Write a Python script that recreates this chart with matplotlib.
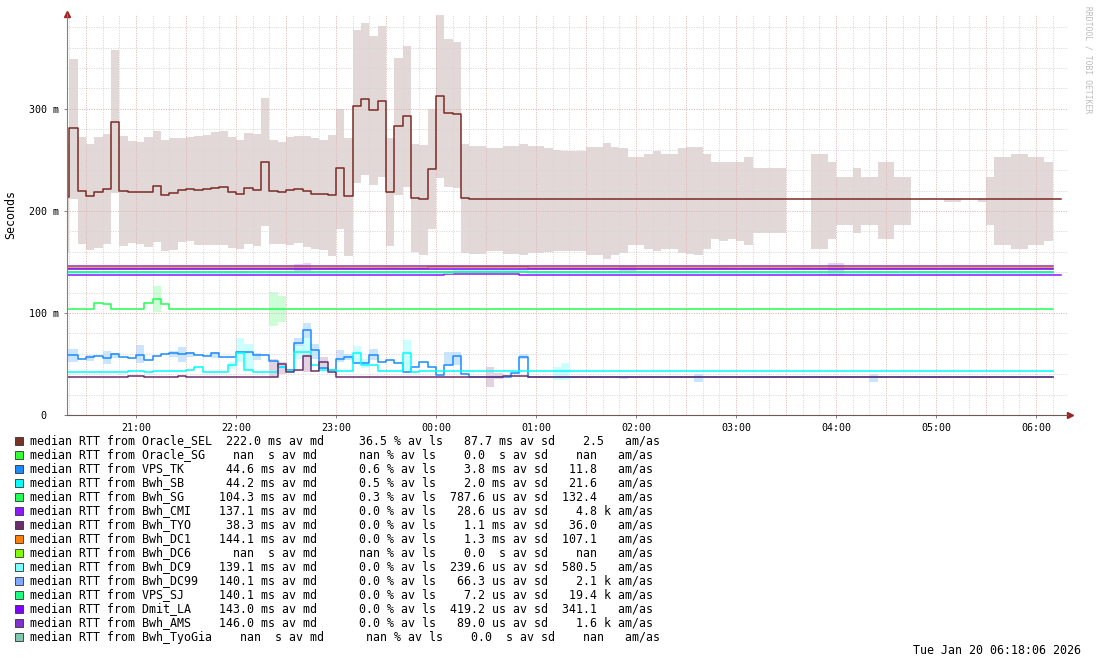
import datetime as dt
import numpy as np
import matplotlib
matplotlib.use('Agg')
import matplotlib.pyplot as plt
import matplotlib.dates as mdates
from matplotlib.patches import Rectangle

nan = np.nan
W, H = 1097, 665
MONO = 'DejaVu Sans Mono'

# 5 minute bins, first bin starts 20:15 (index 0 = bin -1), 120 bins -> 06:15
t_start = dt.datetime(2026, 1, 19, 20, 15)
n_bins = 120
edges = mdates.date2num([t_start + dt.timedelta(minutes=5 * i) for i in range(n_bins + 1)])

# ---- median RTT (ms) per bin ----
oracle_sel = [213.7, 281, 220, 214.4, 218.3, 221.3, 287.6, 219.3, 218.3, 218.3,
              218.3, 224.2, 215.4, 217.3, 220.3, 221.3, 220.3, 221.3, 222.2, 223.2,
              218.3, 216.4, 222.2, 220.3, 247.7, 219.3, 218.3, 220.3, 221.3, 219.3,
              216.4, 216.4, 215.4, 241.8, 214.4, 302.6, 309.5, 298.7, 307.5, 218.3,
              283, 292.8, 212.4, 211.4, 240.8, 312.4, 295.8, 294.8, 212.4] + [211.4] * 71
oracle_sel_hi = [267, 349, 272.9, 265.7, 272.9, 275.5, 358, 273.9, 269, 268,
                 272.9, 278.4, 270, 271.9, 271, 272.9, 273.9, 274.8, 277.7, 278.4,
                 272.9, 270, 276.5, 275.5, 310.8, 270, 268, 272.9, 273.9, 273.5,
                 271, 270, 274.5, 300, 271.9, 377.5, 384.3, 371.6, 381.4, 271,
                 350, 361.8, 265.7, 264.7, 300, 392, 368.6, 365.7, 265.7, 263.7,
                 263.7, 261.8, 261.8, 263.7, 263.7, 265.7, 264, 263.5, 261.8, 259.5,
                 259.1, 259.1, 259.1, 262.2, 262.2, 266.1, 263.1, 261.2, 253.1, 253.1,
                 256.2, 259.1, 256.2, 256.2, 261.2, 262.2, 262.2, 256.2, 248.2, 248.2,
                 248.2, 248.2, 253.1, 242.3, 242.3, 242.3, 242.3, nan, nan, nan,
                 256.2, 256.2, 248.2, 233.3, 233.3, 242.3, 233.3, 233.3, 248.2, 248.2,
                 233.3, 233.3, nan, nan, nan, nan, 211.5, 211.5, nan, nan,
                 211.5, 233.3, 253.1, 253.1, 256.2, 256.2, 253.1, 253.1, 248.2, nan]
oracle_sel_lo = [160, 211.8, 168, 162, 164, 168, 218, 166, 169, 168,
                 165, 170, 161, 162, 170, 171, 167, 167, 167, 167,
                 164, 163, 168, 166, 185.3, 168, 168, 167, 169, 165,
                 163, 162, 156, 182.4, 156, 227.8, 235.3, 225.8, 233.3, 166,
                 216, 223.8, 160, 157, 182, 232.4, 223.8, 222.9, 159, 158,
                 158, 161, 161, 158, 158, 157, 159, 159, 160, 161,
                 161, 161, 161, 157, 157, 153, 156.5, 159, 167, 167,
                 163, 161, 163, 163, 159, 158, 157, 163, 172, 171,
                 172, 171, 167, 178, 178, 178, 178, nan, nan, nan,
                 163, 163, 172, 186.6, 186.6, 178, 186.6, 186.6, 172, 172,
                 186.6, 186.6, nan, nan, nan, nan, 209, 209, nan, nan,
                 209, 186.6, 167, 167, 163, 163, 167, 167, 171, nan]

vps_tk = [58.8, 58.8, 54.9, 56.9, 57.8, 55.9, 59.5, 56.9, 55.9, 58.8,
          53.6, 57.8, 59.8, 60.8, 59.8, 60.8, 58.8, 57.8, 60.8, 56.9,
          56.9, 61.4, 61.4, 58.8, 58.8, 52.6, 47.4, 43.8, 70.3, 83,
          63.4, 46, 44.1, 55.2, 56.5, 50.6, 50.6, 58.5, 51.6, 53.6,
          50.6, 41.8, 46.7, 51.6, 46.7, 38.9, 48.7, 57.5, 40.2, 37,
          37, 37, 37, 37, 40.8, 56.5] + [37.3] * 63 + [nan]
bwh_sb = [41.8, 41.8, 41.8, 41.8, 41.8, 41.8, 41.8, 41.8, 42.8, 42.8,
          41.8, 42.8, 42.8, 42.8, 42.8, 43.8, 46.7, 41.8, 41.8, 41.8,
          48.7, 60.5, 43.8, 41.8, 41.8, 41.8, 46.7, 42.8, 61.4, 61.4,
          48.7, 43.8, 43.8, 42.8, 42.8, 60.5, 48.7, 48.7, 42.8, 42.8,
          42.8, 60.5, 41.8] + [42.8] * 76 + [nan]
bwh_tyo = ([37.6] * 8 + [38.5, 38.5] + [37.6] * 4 + [38.5] + [37.6] * 11
           + [49.7, 41.8, 43.8, 57.8, 42.8, 51.6, 41.8] + [37.6] * 20
           + [38.7] * 3 + [37.6] * 63 + [nan])
bwh_sg = [103.6] * 4 + [109.5, 108.5] + [103.6] * 4 + [109.5, 113.4, 108.5] + [103.6] * 106 + [nan]
bwh_ams = [146.0] * 119 + [nan]
bwh_dc1 = [143.8] * 44 + [145.0] * 12 + [143.8] * 63 + [nan]
dmit_la = [143.0] * 119 + [nan]
bwh_dc99 = [140.1] * 119 + [nan]
vps_sj = [140.1] * 119 + [nan]
bwh_dc9 = [139.1] * 47 + [141.0] * 9 + [139.1] * 63 + [nan]
bwh_cmi = [137.1] * 46 + [138.1] * 9 + [137.1] * 65

# ---- smoke patches (bin, lo, hi) for the smaller targets ----
vps_tk_smoke = [(-1, 52.3, 64.4), (0, 52.3, 64.4), (2, 53, 59), (4, 49.7, 62.5), (5, 56, 61),
                (8, 50.6, 68.6), (12, 57, 63), (13, 52.3, 66.4), (14, 57, 62), (17, 56, 62),
                (20, 55, 63), (22, 54, 61), (27, 63.7, 75.5), (28, 70, 90.5), (29, 55, 69.6),
                (32, 52.3, 63.7), (33, 54, 60), (36, 53.6, 64.7), (45, 49.4, 62), (46, 49.4, 62),
                (54, 55, 60), (66, 35, 37.7), (75, 32.8, 40.3), (82, 36, 38.5), (87, 36, 38.5),
                (90, 36, 38.5), (96, 32.8, 40.3), (103, 36, 38.5), (108, 36, 38.5), (113, 36, 38.5)]
bwh_sb_smoke = [(19, 45, 52), (20, 52.3, 75.5), (21, 44, 70), (27, 55, 68), (28, 58, 75),
                (34, 50.6, 67.6), (35, 46, 55), (40, 40.8, 73.5), (58, 34.4, 46.6), (59, 34.4, 50.8)]
bwh_tyo_smoke = [(24, 37.6, 55), (25, 40, 52), (28, 42, 60), (30, 45, 56.5), (50, 27.7, 46.7), (51, 35, 40.8)]
bwh_sg_smoke = [(10, 101.3, 126.5), (24, 87.3, 120.3), (25, 91.2, 116.7)]
bwh_ams_smoke = [(27, 139, 148), (28, 139, 148.5), (66, 140, 146.5), (67, 140, 146.5),
                 (91, 137, 148.5), (92, 137, 148.5)]
bwh_dc1_smoke = [(31, 143, 145.5), (32, 143, 145.5), (37, 143, 145.5), (38, 143, 145.5),
                 (77, 143, 145.5), (78, 143, 145.5), (87, 143, 145.5), (88, 143, 145.5)]

# ---- legend ----
names = ['Oracle_SEL', 'Oracle_SG', 'VPS_TK', 'Bwh_SB', 'Bwh_SG', 'Bwh_CMI', 'Bwh_TYO', 'Bwh_DC1',
         'Bwh_DC6', 'Bwh_DC9', 'Bwh_DC99', 'VPS_SJ', 'Dmit_LA', 'Bwh_AMS', 'Bwh_TyoGia']
colors = ['#783228', '#33ff33', '#1a8cff', '#00ffff', '#22ff55', '#8c1aff', '#6b2d6b', '#ff8000',
          '#80ff00', '#80ffff', '#80a8ff', '#1aff80', '#8000ff', '#8033cc', '#80c8b0']
av_md = ['222.0', 'nan', '44.6', '44.2', '104.3', '137.1', '38.3', '144.1',
         'nan', '139.1', '140.1', '140.1', '143.0', '146.0', 'nan']
md_pre = ['m', ' ', 'm', 'm', 'm', 'm', 'm', 'm', ' ', 'm', 'm', 'm', 'm', 'm', ' ']
av_ls = ['36.5', 'nan', '0.6', '0.5', '0.3', '0.0', '0.0', '0.0',
         'nan', '0.0', '0.0', '0.0', '0.0', '0.0', 'nan']
av_sd = ['87.7', '0.0', '3.8', '2.0', '787.6', '28.6', '1.1', '1.3',
         '0.0', '239.6', '66.3', '7.2', '419.2', '89.0', '0.0']
sd_pre = ['m', ' ', 'm', 'm', 'u', 'u', 'm', 'm', ' ', 'u', 'u', 'u', 'u', 'u', ' ']
am_as = ['2.5', 'nan', '11.8', '21.6', '132.4', '4.8', '36.0', '107.1',
         'nan', '580.5', '2.1', '19.4', '341.1', '1.6', 'nan']
am_pre = [' ', ' ', ' ', ' ', ' ', 'k', ' ', ' ', ' ', ' ', 'k', 'k', ' ', 'k', ' ']

smoke_col = {'sel': '#e3d8d8', 'tk': '#cce5ff', 'sb': '#ccffff', 'tyo': '#e2d3e2',
             'sg': '#ccffd6', 'ams': '#e4cff5', 'dc1': '#ffe3d0'}

fig = plt.figure(figsize=(W / 100, H / 100), dpi=100)
ax = fig.add_axes([67 / W, 1 - 415 / H, 1001 / W, 401 / H])


def smoke(lo, hi, color):
    lo = np.asarray(lo, float)
    hi = np.asarray(hi, float)
    ok = ~np.isnan(lo)
    ax.bar(edges[:-1][ok], (hi - lo)[ok], bottom=lo[ok], width=5 / 1440, align='edge',
           color=color, linewidth=0, antialiased=False, zorder=1)


def patches(items, color):
    lo = np.full(n_bins, nan)
    hi = np.full(n_bins, nan)
    for b, l, h in items:
        lo[b + 1], hi[b + 1] = l, h
    smoke(lo, hi, color)


smoke(oracle_sel_lo, oracle_sel_hi, smoke_col['sel'])
patches(vps_tk_smoke, smoke_col['tk'])
patches(bwh_sb_smoke, smoke_col['sb'])
patches(bwh_tyo_smoke, smoke_col['tyo'])
patches(bwh_sg_smoke, smoke_col['sg'])
patches(bwh_ams_smoke, smoke_col['ams'])
patches(bwh_dc1_smoke, smoke_col['dc1'])

# grid (rrdtool style, dotted)
t = dt.datetime(2026, 1, 19, 20, 20)
while t <= dt.datetime(2026, 1, 20, 6, 10):
    major = t.minute % 30 == 0
    ax.axvline(mdates.date2num(t), color='#e0b4b4' if major else '#d6d6d6',
               lw=0.72, ls=(0, (1, 1.4)), zorder=1.5)
    t += dt.timedelta(minutes=10)
for yv in range(20, 400, 20):
    major = yv % 100 == 0
    ax.axhline(yv, color='#e0b4b4' if major else '#d6d6d6', lw=0.72, ls=(0, (1, 1.4)), zorder=1.5)


def line(vals, color):
    v = np.asarray(vals, float)
    ax.step(edges, np.append(v, v[-1]), where='post', color=color, lw=1.1, zorder=2)


line(oracle_sel, '#7a2b24')
line(vps_tk, colors[2])
line(bwh_sb, colors[3])
line(bwh_sg, colors[4])
line(bwh_cmi, colors[5])
line(bwh_tyo, colors[6])
line(bwh_dc1, colors[7])
line(bwh_dc9, colors[9])
line(bwh_dc99, colors[10])
line(vps_sj, colors[11])
line(dmit_la, colors[12])
line(bwh_ams, colors[13])

ax.xaxis_date()
ax.set_xlim(mdates.date2num(dt.datetime(2026, 1, 19, 20, 18, 36)),
            mdates.date2num(dt.datetime(2026, 1, 20, 6, 19, 12)))
ax.set_ylim(0, 393)
ax.xaxis.set_major_locator(mdates.HourLocator())
ax.xaxis.set_major_formatter(mdates.DateFormatter('%H:%M'))
ax.set_yticks([0, 100, 200, 300])
ax.set_yticklabels(['0  ', '100 m', '200 m', '300 m'])
for lab in ax.get_xticklabels() + ax.get_yticklabels():
    lab.set_family(MONO)
    lab.set_fontsize(7.2)
ax.tick_params(axis='both', length=2, width=0.7, color='#808080', pad=4)
for s in ['top', 'right']:
    ax.spines[s].set_visible(False)
ax.spines['left'].set_color('#808080')
ax.spines['bottom'].set_color('#6b5a5a')
ax.plot([0], [1.0], marker='^', ms=4, color='#a02020', transform=ax.transAxes, clip_on=False)
ax.plot([1.002], [0], marker='>', ms=4, color='#a02020', transform=ax.transAxes, clip_on=False)

fig.text(11 / W, 1 - 214 / H, 'Seconds', rotation=90, ha='center', va='center',
         family=MONO, fontsize=8.4)
fig.text(1088 / W, 1 - 60 / H, 'RRDTOOL / TOBI OETIKER', rotation=270, ha='center', va='center',
         family=MONO, fontsize=5.8, color='#bcbcbc')

for i, name in enumerate(names):
    y = 441 + 14 * i
    txt = (f"median RTT from {name:<9}{av_md[i]:>7} {md_pre[i]}s av md {av_ls[i]:>8} % av ls"
           f"{av_sd[i]:>7} {sd_pre[i]}s av sd{am_as[i]:>7} {am_pre[i]} am/as")
    fig.text(30 / W, 1 - y / H, txt, ha='left', va='center', family=MONO, fontsize=8.4)
    fig.patches.append(Rectangle((15 / W, 1 - (y + 4) / H), 8 / W, 8 / H, transform=fig.transFigure,
                                 facecolor=colors[i], edgecolor='#303030', lw=0.6))

fig.text(1081 / W, 1 - 651 / H, 'Tue Jan 20 06:18:06 2026', ha='right', va='center',
         family=MONO, fontsize=8.4)

fig.savefig('out.png', dpi=100, facecolor='white')
